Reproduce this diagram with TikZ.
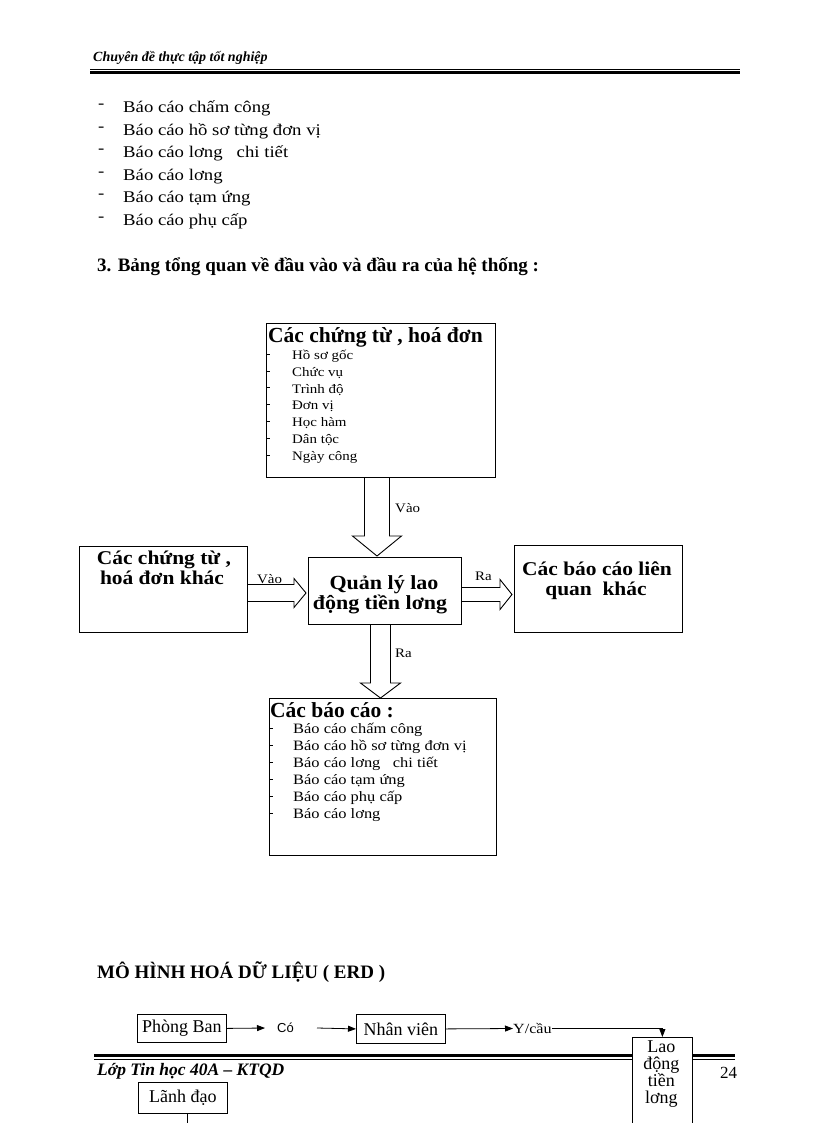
\documentclass[tikz,border=0pt]{standalone}
\usepackage{fontspec}
\setmainfont{Liberation Serif}
\newfontfamily\wideserif[FakeStretch=1.15]{Liberation Serif}
\newfontfamily\widebold[FakeStretch=1.1]{Liberation Serif Bold}
\newfontfamily\sansf{Liberation Sans}
\usetikzlibrary{arrows.meta,calc}
\begin{document}
\begin{tikzpicture}[x=1pt,y=-1pt,
  every node/.style={inner sep=0pt},
  listtxt/.style={anchor=base west, font=\wideserif\fontsize{16.3}{18}\selectfont},
  heading/.style={anchor=base west, font=\bfseries\fontsize{19}{21}\selectfont},
  scripttxt/.style={anchor=base west, font=\bfseries\itshape\fontsize{14}{17}\selectfont},
  box/.style={draw, line width=1pt, fill=white, anchor=north west},
  btitle/.style={anchor=base west, font=\bfseries\fontsize{21.5}{23}\selectfont},
  bitem/.style={anchor=base west, font=\wideserif\fontsize{13}{15}\selectfont},
  bitemb/.style={anchor=base west, font=\wideserif\fontsize{14.3}{16}\selectfont},
  btext/.style={anchor=base, font=\widebold\fontsize{19.5}{20}\selectfont},
  barrow/.style={draw, line width=0.9pt, fill=white, line join=miter},
  alabel/.style={anchor=base west, font=\wideserif\fontsize{13}{15}\selectfont},
  ebox/.style={draw, line width=0.8pt, fill=white, anchor=north west},
  etext/.style={font=\fontsize{18}{18}\selectfont},
  earrow/.style={line width=0.8pt, -{Triangle[length=8pt,width=6pt]}},
  tick/.style={line width=0.6pt},
  rulethin/.style={line width=0.7pt},
  rulethick/.style={line width=3.5pt},
]
\useasboundingbox (0,0) rectangle (816,1123);

% header
\node[scripttxt] (hdr) at (93,62) {Chuyên đề thực tập tốt nghiệp};
\coordinate (hl) at (90,69);
\coordinate (hr) at (740,69);
\draw[rulethin] (hl) -- (hr);
\draw[rulethick] ($(hl)+(0,3.5)$) -- ($(hr)+(0,3.5)$);

% bullet list
\foreach \t [count=\i] in {Báo cáo chấm công, Báo cáo hồ sơ từng đơn vị, Báo cáo lơng \ \ chi tiết, Báo cáo lơng, Báo cáo tạm ứng, Báo cáo phụ cấp}{
  \node[listtxt] (d\i) at (98,{113+22.5*(\i-1)-4}) {-};
  \node[listtxt] (l\i) at (123,{113+22.5*(\i-1)}) {\t};
}

\node[heading] (h3) at (97,271) {3. Bảng tổng quan về đầu vào và đầu ra của hệ thống :};

% boxes
\node[box, minimum width=229pt, minimum height=154pt] (src) at (266,323) {};
\node[box, minimum width=153pt, minimum height=67pt] (core) at (308,557) {};
\node[box, minimum width=168pt, minimum height=86pt] (lbox) at (79,546) {};
\node[box, minimum width=168pt, minimum height=87pt] (rbox) at (514,545) {};
\node[box, minimum width=227pt, minimum height=157pt] (bbox) at (269,698) {};

% top box contents
\node[btitle] (srct) at (268,342) {Các chứng từ , hoá đơn};
\foreach \t [count=\i] in {Hồ sơ gốc, Chức vụ, Trình độ, Đơn vị, Học hàm, Dân tộc, Ngày công}{
  \node[bitem] (s\i) at (292,{359.5+16.8*(\i-1)}) {\t};
  \draw[tick] (src.west |- 0,{354+16.8*(\i-1)}) -- ++(4,0);
}

% bottom box contents
\node[btitle] (bbt) at (270,717) {Các báo cáo :};
\foreach \t [count=\i] in {Báo cáo chấm công, Báo cáo hồ sơ từng đơn vị, Báo cáo lơng \ \ chi tiết, Báo cáo tạm ứng, Báo cáo phụ cấp, Báo cáo lơng}{
  \node[bitemb] (b\i) at (293,{733+17*(\i-1)}) {\t};
  \draw[tick] (bbox.west |- 0,{728+17*(\i-1)}) -- ++(4,0);
}

% texts of the other boxes
\node[btext] (lt1) at (164,564) {Các chứng từ ,};
\node[btext] (lt2) at (162,584) {hoá đơn khác};
\node[btext, font=\widebold\fontsize{20}{20}\selectfont] (ct1) at (384,589) {Quản lý lao};
\node[btext, font=\widebold\fontsize{20}{20}\selectfont] (ct2) at (380,609.5) {động tiền lơng};
\node[btext] (rt1) at (597,575) {Các báo cáo liên};
\node[btext] (rt2) at (596,595) {quan \ khác};

% block arrows
\draw[barrow] ($(src.south)+(-16.5,0)$) -- ($(src.south)+(-16.5,58)$) -- ($(src.south)+(-28.5,58)$)
  -- ($(core.north)+(-8,-1)$) -- ($(src.south)+(20.5,58)$) -- ($(src.south)+(8.5,58)$) -- ($(src.south)+(8.5,0)$);
\node[alabel] (vao1) at (395,512) {Vào};

\draw[barrow] ($(lbox.east)+(0,-5)$) -- ($(lbox.east)+(46,-5)$) -- ($(lbox.east)+(46,-11)$)
  -- ($(core.west)+(-2,2)$) -- ($(lbox.east)+(46,18)$) -- ($(lbox.east)+(46,12)$) -- ($(lbox.east)+(0,12)$);
\node[alabel] (vao2) at (257,583) {Vào};

\draw[barrow] ($(core.east)+(0,-3.5)$) -- ($(core.east)+(38,-3.5)$) -- ($(core.east)+(38,-11.5)$)
  -- ($(rbox.west)+(-2,5.5)$) -- ($(core.east)+(38,18.5)$) -- ($(core.east)+(38,10.5)$) -- ($(core.east)+(0,10.5)$);
\node[alabel] (ra1) at (475,580) {Ra};

\draw[barrow] ($(core.south)+(-14.5,0)$) -- ($(core.south)+(-14.5,58)$) -- ($(core.south)+(-24.5,58)$)
  -- ($(bbox.north)+(-2.5,0)$) -- ($(core.south)+(15.5,58)$) -- ($(core.south)+(5.5,58)$) -- ($(core.south)+(5.5,0)$);
\node[alabel] (ra2) at (395,657) {Ra};

% ERD
\node[heading] (erdh) at (97,978) {MÔ HÌNH HOÁ DỮ LIỆU ( ERD )};

% footer rule (drawn before the box that covers it)
\coordinate (fl) at (94,1055.5);
\coordinate (fr) at (735,1055.5);
\draw[rulethick] (fl) -- (fr);
\draw[rulethin] ($(fl)+(0,4)$) -- ($(fr)+(0,4)$);
\node[scripttxt, font=\bfseries\itshape\fontsize{17.5}{19}\selectfont] (ftr) at (97,1075) {Lớp Tin học 40A – KTQD};
\node[anchor=base west, font=\fontsize{17}{19}\selectfont] (pg) at (720,1078) {24};

\node[ebox, minimum width=89pt, minimum height=28pt] (pb) at (137,1014) {};
\node[etext] (pbt) at (pb.center) {Phòng Ban};
\node[ebox, minimum width=89pt, minimum height=29pt] (nv) at (356,1014) {};
\node[etext] (nvt) at (nv.center) {Nhân viên};
\node[ebox, minimum width=60pt, minimum height=92pt] (lao) at (632,1037) {};
\node[etext, align=center, font=\fontsize{18}{16.4}\selectfont] (laot) at ($(lao.north)+(-1,37)$) {Lao\\động\\tiền\\lơng};
\node[ebox, minimum width=89pt, minimum height=31pt] (ld) at (138,1082) {};
\node[etext] (ldt) at (ld.center) {Lãnh đạo};

\node[anchor=base west, font=\sansf\fontsize{13}{14}\selectfont] (co) at (277,1032) {Có};
\node[anchor=west, font=\wideserif\fontsize{14}{15}\selectfont] (yc) at (513,1028.5) {Y/cầu};
\coordinate (c1) at (265,1028);
\coordinate (c2) at (317,1028);
\draw[earrow] (pb.east) -- (c1);
\draw[earrow] (c2) -- (nv.west);
\draw[earrow] (nv.east) -- (yc.west);
\draw[earrow] (yc.east) -| (lao.north);
\coordinate (ldend) at (187,1126);
\draw[line width=0.8pt] (ldend |- ld.south) -- (ldend);
\end{tikzpicture}
\end{document}
